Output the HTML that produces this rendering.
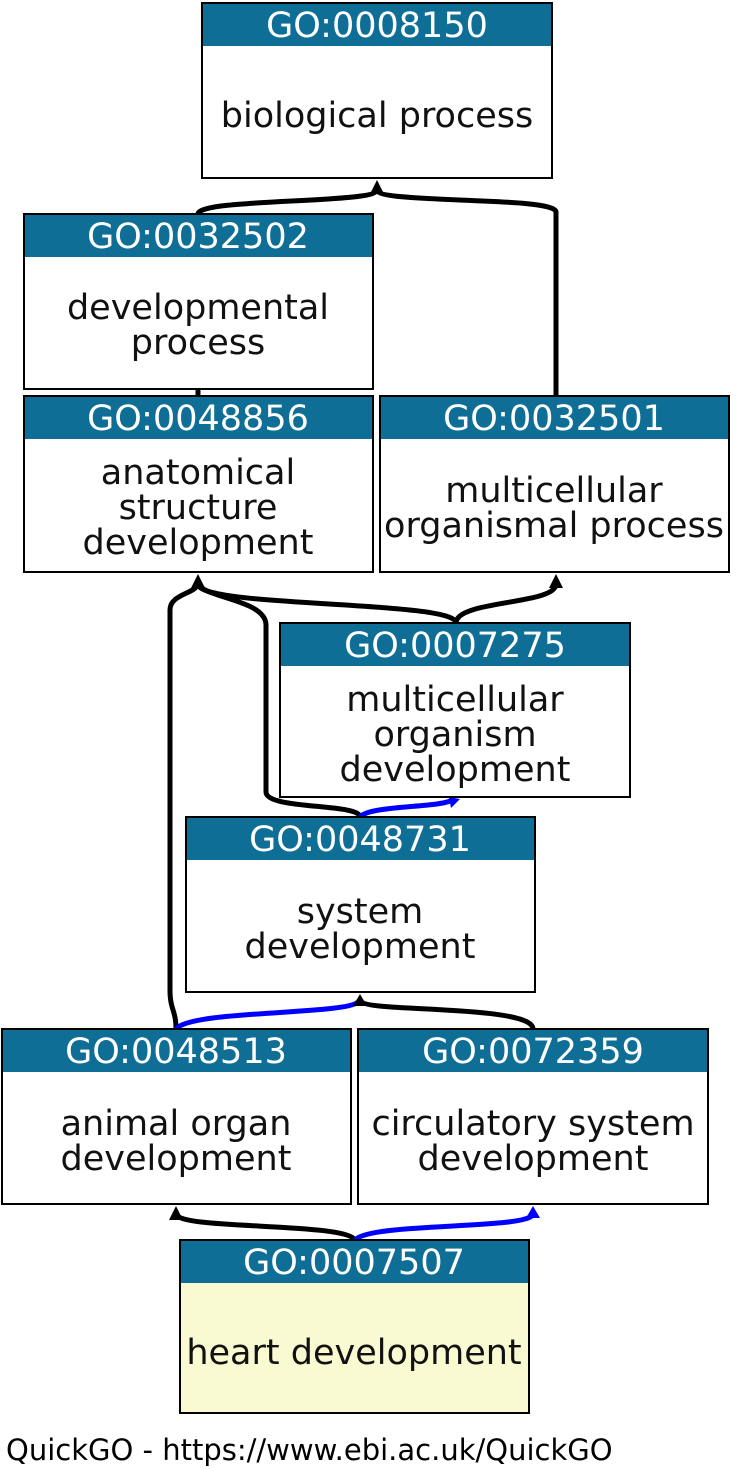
<!DOCTYPE html>
<html><head><meta charset="utf-8"><style>
html,body{margin:0;padding:0;background:#fff;width:750px;height:1469px;overflow:hidden}
svg text{font-family:"DejaVu Sans","Liberation Sans",sans-serif}
</style></head><body>
<svg width="750" height="1469" viewBox="0 0 750 1469" xmlns="http://www.w3.org/2000/svg">
<g fill="none" stroke-width="5">
<path d="M198,214 C198,198 377,204 377,190" stroke="#000"/>
<path d="M556,396 L556,212 C556,196 377,204 377,190" stroke="#000"/>
<path d="M198,396 L198,389" stroke="#000"/>
<path d="M456,623 C456,600 198,608 198,584" stroke="#000"/>
<path d="M456,623 C456,600 556,605 556,584" stroke="#000"/>
<path d="M360,817 C360,803 266,810 266,792 L266,625 C266,600 205,598 198,584" stroke="#000"/>
<path d="M176,1029 C176,1010 170,1010 170,990 L170,610 C170,594 195,594 198,584" stroke="#000"/>
<path d="M360,817 C370,805 440,808 452,800" stroke="#00f"/>
<path d="M176,1029 C190,1010 345,1015 358,1002" stroke="#00f"/>
<path d="M533,1029 C533,1005 370,1012 362,1002" stroke="#000"/>
<path d="M355,1240 C345,1222 178,1230 176,1214" stroke="#000"/>
<path d="M355,1240 C370,1222 530,1230 533,1214" stroke="#00f"/>
</g>
<g fill="#000">
<polygon points="377,180 370,194 384,194"/>
<polygon points="198,574 191,588 205,588"/>
<polygon points="556,574 549,588 563,588"/>
<polygon points="360,994 353,1006 367,1006"/>
<polygon points="176,1206 169,1220 183,1220"/>
</g>
<g fill="#00f">
<polygon points="460,799 449,797 451,808"/>
<polygon points="533,1206 526,1218 540,1218"/>
</g>
<g stroke="#000" stroke-width="2">
<rect x="202" y="3" width="350" height="175" fill="#fff"/>
<rect x="24" y="214" width="349" height="175" fill="#fff"/>
<rect x="24" y="396" width="349" height="176" fill="#fff"/>
<rect x="380" y="396" width="349" height="176" fill="#fff"/>
<rect x="280" y="623" width="350" height="174" fill="#fff"/>
<rect x="186" y="817" width="349" height="175" fill="#fff"/>
<rect x="2" y="1029" width="349" height="175" fill="#fff"/>
<rect x="358" y="1029" width="350" height="175" fill="#fff"/>
<rect x="180" y="1240" width="349" height="173" fill="#fafad2"/>
</g>
<g fill="#0e6e96">
<rect x="203" y="4" width="348" height="42"/>
<rect x="25" y="215" width="347" height="42"/>
<rect x="25" y="397" width="347" height="42"/>
<rect x="381" y="397" width="347" height="42"/>
<rect x="281" y="624" width="348" height="42"/>
<rect x="187" y="818" width="347" height="42"/>
<rect x="3" y="1030" width="347" height="42"/>
<rect x="359" y="1030" width="348" height="42"/>
<rect x="181" y="1241" width="347" height="42"/>
</g>
<g fill="#fff" font-size="35" text-anchor="middle">
<text x="377" y="37">GO:0008150</text>
<text x="198" y="248">GO:0032502</text>
<text x="198" y="430">GO:0048856</text>
<text x="554" y="430">GO:0032501</text>
<text x="455" y="657">GO:0007275</text>
<text x="360" y="851">GO:0048731</text>
<text x="176" y="1063">GO:0048513</text>
<text x="533" y="1063">GO:0072359</text>
<text x="354" y="1274">GO:0007507</text>
</g>
<g fill="#111" font-size="35" text-anchor="middle">
<text x="377" y="127">biological process</text>
<text x="198" y="319">developmental</text>
<text x="198" y="354">process</text>
<text x="198" y="484">anatomical</text>
<text x="198" y="519">structure</text>
<text x="198" y="554">development</text>
<text x="554" y="502">multicellular</text>
<text x="554" y="537">organismal process</text>
<text x="455" y="711">multicellular</text>
<text x="455" y="746">organism</text>
<text x="455" y="781">development</text>
<text x="360" y="923">system</text>
<text x="360" y="958">development</text>
<text x="176" y="1135">animal organ</text>
<text x="176" y="1170">development</text>
<text x="533" y="1135">circulatory system</text>
<text x="533" y="1170">development</text>
<text x="354" y="1364">heart development</text>
</g>
<text x="6" y="1460" font-size="29" fill="#000">QuickGO - https://www.ebi.ac.uk/QuickGO</text>
</svg>
</body></html>
